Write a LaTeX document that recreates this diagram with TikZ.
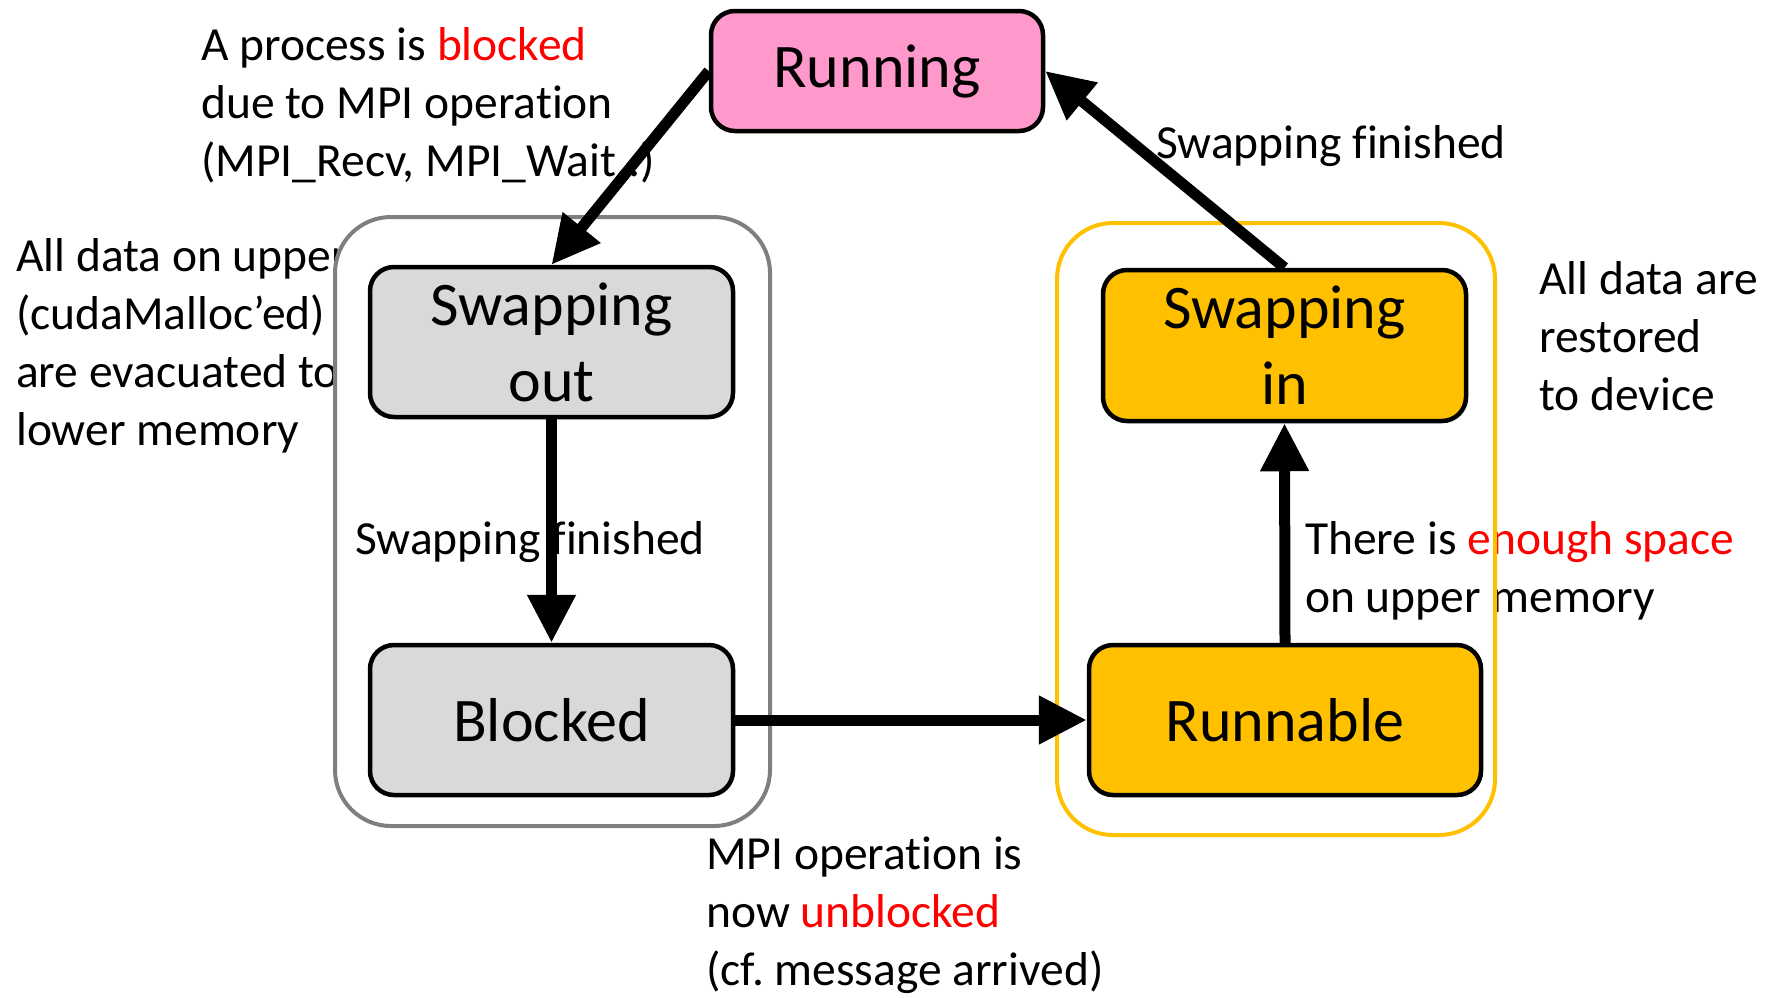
\documentclass[tikz,border=0pt]{standalone}
\usepackage{fontspec}
\setmainfont{Carlito}[RawFeature={-liga;-clig;-dlig}]
\usetikzlibrary{arrows.meta}
\definecolor{pinkfill}{HTML}{FF99CC}
\definecolor{grayfill}{HTML}{D9D9D9}
\definecolor{goldfill}{HTML}{FFC000}
\definecolor{grpgray}{HTML}{7F7F7F}
\definecolor{redtxt}{HTML}{FF0000}
\newcommand{\labfont}{\fontsize{47.5}{58}\selectfont\frenchspacing}
\newcommand{\boxfont}{\fontsize{62}{76}\selectfont}
\tikzset{
  statebox/.style={draw=black, line width=4.5pt, rounded corners=24pt, inner sep=0pt, align=center, font=\boxfont},
  grp/.style={line width=4pt, rounded corners=56pt},
  lab/.style={anchor=north west, inner sep=0pt, align=left, font=\labfont},
  trans/.style={line width=11pt, -{Triangle[length=48pt, width=46pt]}}
}
\begin{document}
\begin{tikzpicture}[x=1pt, y=-1pt]
\useasboundingbox (0,0) rectangle (1769,997);
% left text (covered by gray group)
\node[lab] (t2) at (16,231) {\strut All data on upper\\(cudaMalloc’ed)\\are evacuated to\\lower memory};
% gray group
\node[grp, draw=grpgray, fill=white, minimum width=435pt, minimum height=609pt, inner sep=0pt] (gg) at (552.5,521.5) {};
% other labels
\node[lab] (t1) at (201,20) {\strut A process is \textcolor{redtxt}{blocked}\\due to MPI operation\\(MPI\_Recv, MPI\_Wait..)};
\node[lab] (t3) at (1156,118) {\strut Swapping finished};
\node[lab] (t4) at (1539,254) {\strut All data are\\restored\\to device};
\node[lab] (t5) at (355,514) {\strut Swapping finished};
\node[lab] (t6) at (1305,514) {\strut There is \textcolor{redtxt}{enough space}\\on upper memory};
\node[lab] (t7) at (706,829) {\strut MPI operation is\\now \textcolor{redtxt}{unblocked}\\(cf. message arrived)};
% yellow group
\node[grp, draw=goldfill, minimum width=438pt, minimum height=612pt, inner sep=0pt] (gy) at (1276,529) {};
% states
\node[statebox, fill=pinkfill, minimum width=332pt, minimum height=120pt] (run) at (877,71) {\raisebox{-3pt}{Running}};
\node[statebox, fill=grayfill, minimum width=363pt, minimum height=150pt] (so) at (551.5,342) {Swapping\\out};
\node[statebox, fill=grayfill, minimum width=363pt, minimum height=150pt] (bl) at (551.5,720) {Blocked};
\node[statebox, fill=goldfill, minimum width=363pt, minimum height=151pt] (si) at (1284.5,345.5) {Swapping\\in};
\node[statebox, fill=goldfill, minimum width=392pt, minimum height=150pt] (rn) at (1285,720) {Runnable};
% transitions
\draw[trans] (run.west) -- (so.north);
\draw[trans] (so.south) -- (bl.north);
\draw[trans] (bl.east) -- (rn.west);
\draw[trans] (rn.north) -- (si.south);
\draw[trans] (si.north) -- (run.east);
\end{tikzpicture}
\end{document}
